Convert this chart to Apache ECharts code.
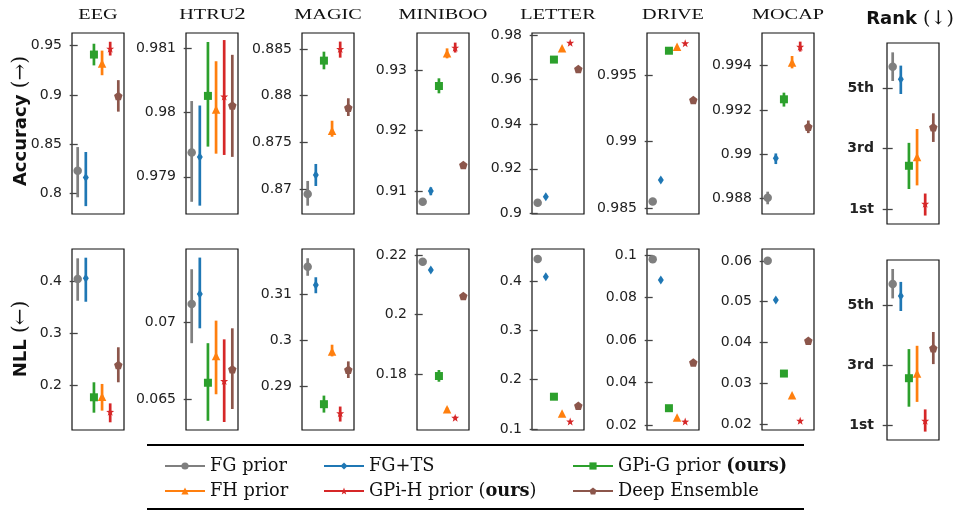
<!DOCTYPE html>
<html>
<head>
<meta charset="utf-8">
<script src="https://cdn.jsdelivr.net/npm/echarts@6/dist/echarts.min.js"></script>
<style>
  html, body { margin: 0; padding: 0; background: #fff; }
  #chart { width: 955px; height: 511px; }
</style>
</head>
<body>
<div id="chart"></div>
<script>
// Methods, in the left-to-right order used inside every panel
const methodNames = ['FG prior', 'FG+TS', 'GPi-G prior (ours)', 'FH prior', 'GPi-H prior (ours)', 'Deep Ensemble'];
const datasets = ['EEG', 'HTRU2', 'MAGIC', 'MINIBOO', 'LETTER', 'DRIVE', 'MOCAP'];

// ---- Accuracy (mean, lower, upper) ----
const eegAccMean = [0.823, 0.816, 0.941, 0.932, 0.947, 0.899];
const eegAccLo   = [0.796, 0.787, 0.930, 0.920, 0.940, 0.883];
const eegAccHi   = [0.847, 0.842, 0.952, 0.945, 0.954, 0.915];

const htruAccMean = [0.97938, 0.97931, 0.98026, 0.98005, 0.98025, 0.98011];
const htruAccLo   = [0.97861, 0.97855, 0.97947, 0.97936, 0.97934, 0.97931];
const htruAccHi   = [0.98018, 0.98011, 0.98110, 0.98080, 0.98113, 0.98090];

const magicAccMean = [0.86946, 0.87150, 0.88375, 0.87624, 0.88500, 0.87871];
const magicAccLo   = [0.86821, 0.87032, 0.88282, 0.87560, 0.88407, 0.87782];
const magicAccHi   = [0.87086, 0.87268, 0.88471, 0.87731, 0.88579, 0.87972];

const minibooAccMean = [0.90823, 0.91000, 0.92736, 0.93276, 0.93370, 0.91430];
const minibooAccLo   = [0.90810, 0.90930, 0.92615, 0.93193, 0.93289, 0.91410];
const minibooAccHi   = [0.90840, 0.91060, 0.92863, 0.93358, 0.93453, 0.91450];

const letterAccMean = [0.90475, 0.90744, 0.96897, 0.97403, 0.97655, 0.96480];

const driveAccMean = [0.98550, 0.98712, 0.99682, 0.99712, 0.99738, 0.99312];

const mocapAccMean = [0.98803, 0.98981, 0.99248, 0.99414, 0.99486, 0.99124];
const mocapAccLo   = [0.98773, 0.98955, 0.99215, 0.99388, 0.99464, 0.99095];
const mocapAccHi   = [0.98830, 0.99003, 0.99278, 0.99444, 0.99509, 0.99152];

const rankAccMean = [5.71, 5.30, 2.43, 2.72, 1.17, 3.71];
const rankAccLo   = [5.24, 4.81, 1.66, 1.78, 0.78, 3.22];
const rankAccHi   = [6.19, 5.75, 3.19, 3.65, 1.51, 4.17];

// ---- NLL (mean, lower, upper) ----
const eegNllMean = [0.4038, 0.4052, 0.1778, 0.1790, 0.1500, 0.2396];
const eegNllLo   = [0.3623, 0.3604, 0.1484, 0.1523, 0.1300, 0.2065];
const eegNllHi   = [0.4434, 0.4446, 0.2065, 0.2033, 0.1662, 0.2734];

const htruNllMean = [0.07122, 0.07187, 0.06608, 0.06783, 0.06619, 0.06696];
const htruNllLo   = [0.06866, 0.06963, 0.06360, 0.06533, 0.06352, 0.06437];
const htruNllHi   = [0.07348, 0.07424, 0.06866, 0.07013, 0.06891, 0.06963];

const magicNllMean = [0.31597, 0.31201, 0.28619, 0.29762, 0.28424, 0.29366];
const magicNllLo   = [0.31400, 0.31022, 0.28437, 0.29654, 0.28243, 0.29186];
const magicNllHi   = [0.31780, 0.31368, 0.28805, 0.29907, 0.28568, 0.29546];

const minibooNllMean = [0.21775, 0.21496, 0.17933, 0.16813, 0.16531, 0.20625];
const minibooNllLo   = [0.21760, 0.21430, 0.17741, 0.16760, 0.16480, 0.20610];
const minibooNllHi   = [0.21790, 0.21560, 0.18134, 0.16870, 0.16580, 0.20640];

const letterNllMean = [0.4446, 0.4087, 0.1655, 0.1315, 0.1152, 0.1473];

const driveNllMean = [0.09800, 0.08816, 0.02786, 0.02344, 0.02155, 0.04941];

const mocapNllMean = [0.06007, 0.05042, 0.03238, 0.02706, 0.02081, 0.04042];

const rankNllMean = [5.70, 5.30, 2.56, 2.72, 1.14, 3.56];
const rankNllLo   = [5.22, 4.80, 1.61, 1.77, 0.78, 3.03];
const rankNllHi   = [6.20, 5.77, 3.53, 3.64, 1.52, 4.10];

// ---- Tick values ----
const eegAccTicks = [0.8, 0.85, 0.9, 0.95];
const htruAccTicks = [0.979, 0.98, 0.981];
const magicAccTicks = [0.87, 0.875, 0.88, 0.885];
const minibooAccTicks = [0.91, 0.92, 0.93];
const letterAccTicks = [0.9, 0.92, 0.94, 0.96, 0.98];
const driveAccTicks = [0.985, 0.99, 0.995];
const mocapAccTicks = [0.988, 0.99, 0.992, 0.994];
const eegNllTicks = [0.2, 0.3, 0.4];
const htruNllTicks = [0.065, 0.07];
const magicNllTicks = [0.29, 0.3, 0.31];
const minibooNllTicks = [0.18, 0.2, 0.22];
const letterNllTicks = [0.1, 0.2, 0.3, 0.4];
const driveNllTicks = [0.02, 0.04, 0.06, 0.08, 0.1];
const mocapNllTicks = [0.02, 0.03, 0.04, 0.05, 0.06];
const rankTicks = [1, 3, 5];
const rankTickLabels = ['1st', '3rd', '5th'];

// ---- Styling ----
const methodColors = ['#7f7f7f', '#1f77b4', '#2ca02c', '#ff7f0e', '#d62728', '#8c564b'];

function polygonPath(n, inner) {
  const pts = [];
  const count = inner ? n * 2 : n;
  for (let i = 0; i < count; i++) {
    const a = -Math.PI / 2 + i * 2 * Math.PI / count;
    const r = inner && i % 2 ? inner : 1;
    pts.push((r * Math.cos(a)).toFixed(4) + ',' + (r * Math.sin(a)).toFixed(4));
  }
  return 'path://M' + pts.join(' L') + ' Z';
}
const starSymbol = polygonPath(5, 0.4);
const pentagonSymbol = polygonPath(5, 0);
const methodSymbols = ['circle', 'diamond', 'rect', 'triangle', starSymbol, pentagonSymbol];
const methodSymbolSizes = [8.5, [6, 9], 8, 8.5, 8, 8.5];

const colLefts = [72, 186, 302, 417, 532, 647, 762, 887];
const PANEL_W = 52;

const panels = [
  // accuracy row
  { col: 0, top: 33, h: 181, mean: eegAccMean, lo: eegAccLo, hi: eegAccHi, ticks: eegAccTicks, range: [0.779, 0.9629] },
  { col: 1, top: 33, h: 181, mean: htruAccMean, lo: htruAccLo, hi: htruAccHi, ticks: htruAccTicks, range: [0.97842, 0.98124] },
  { col: 2, top: 33, h: 181, mean: magicAccMean, lo: magicAccLo, hi: magicAccHi, ticks: magicAccTicks, range: [0.86732, 0.88671] },
  { col: 3, top: 33, h: 181, mean: minibooAccMean, lo: minibooAccLo, hi: minibooAccHi, ticks: minibooAccTicks, range: [0.9062, 0.93612] },
  { col: 4, top: 33, h: 181, mean: letterAccMean, ticks: letterAccTicks, range: [0.8997, 0.9809] },
  { col: 5, top: 33, h: 181, mean: driveAccMean, ticks: driveAccTicks, range: [0.98457, 0.99815] },
  { col: 6, top: 33, h: 181, mean: mocapAccMean, lo: mocapAccLo, hi: mocapAccHi, ticks: mocapAccTicks, range: [0.98729, 0.99548] },
  { col: 7, top: 43, h: 181, mean: rankAccMean, lo: rankAccLo, hi: rankAccHi, ticks: rankTicks, range: [0.5, 6.5], rank: true },
  // NLL row
  { col: 0, top: 249, h: 181, mean: eegNllMean, lo: eegNllLo, hi: eegNllHi, ticks: eegNllTicks, range: [0.1153, 0.4612] },
  { col: 1, top: 249, h: 181, mean: htruNllMean, lo: htruNllLo, hi: htruNllHi, ticks: htruNllTicks, range: [0.0630, 0.0748] },
  { col: 2, top: 249, h: 181, mean: magicNllMean, lo: magicNllLo, hi: magicNllHi, ticks: magicNllTicks, range: [0.2806, 0.3198] },
  { col: 3, top: 249, h: 181, mean: minibooNllMean, lo: minibooNllLo, hi: minibooNllHi, ticks: minibooNllTicks, range: [0.1612, 0.2220] },
  { col: 4, top: 249, h: 181, mean: letterNllMean, ticks: letterNllTicks, range: [0.098, 0.4649] },
  { col: 5, top: 249, h: 181, mean: driveNllMean, ticks: driveNllTicks, range: [0.0176, 0.1028] },
  { col: 6, top: 249, h: 181, mean: mocapNllMean, ticks: mocapNllTicks, range: [0.01853, 0.06294] },
  { col: 7, top: 260, h: 180, mean: rankNllMean, lo: rankNllLo, hi: rankNllHi, ticks: rankTicks, range: [0.5, 6.5], rank: true }
];

const grid = [], xAxis = [], yAxis = [], series = [];

panels.forEach((p, k) => {
  grid.push({
    left: colLefts[p.col], top: p.top, width: PANEL_W, height: p.h,
    show: true, borderColor: '#111', borderWidth: 1.2, backgroundColor: 'transparent'
  });
  xAxis.push({ gridIndex: k, type: 'value', min: -0.7, max: 5.7, show: false });
  yAxis.push({
    gridIndex: k, type: 'value', min: p.range[0], max: p.range[1],
    axisLine: { show: false },
    splitLine: { show: false },
    axisTick: {
      show: true, length: p.rank ? 10 : 8, customValues: p.ticks,
      lineStyle: { color: '#444', width: 1.3 }
    },
    axisLabel: {
      customValues: p.ticks, margin: p.rank ? 13 : 10, color: '#222',
      fontFamily: 'DejaVu Sans', fontSize: 14, fontWeight: p.rank ? 'bold' : 'normal',
      formatter: p.rank
        ? (v) => rankTickLabels[rankTicks.indexOf(Math.round(v))]
        : (v) => String(+(+v).toFixed(6))
    }
  });
  if (p.lo && p.hi) {
    series.push({
      type: 'custom', xAxisIndex: k, yAxisIndex: k, z: 2, silent: true,
      data: p.mean.map((_, i) => [i, p.lo[i], p.hi[i]]),
      encode: { x: 0, y: [1, 2] },
      renderItem: (params, api) => {
        const i = api.value(0);
        const a = api.coord([i, api.value(1)]);
        const b = api.coord([i, api.value(2)]);
        return {
          type: 'line',
          shape: { x1: a[0], y1: a[1], x2: b[0], y2: b[1] },
          style: { stroke: methodColors[i], lineWidth: 2.7 }
        };
      }
    });
  }
  series.push({
    type: 'scatter', xAxisIndex: k, yAxisIndex: k, z: 3, silent: true,
    data: p.mean.map((m, i) => ({
      value: [i, m],
      symbol: methodSymbols[i],
      symbolSize: methodSymbolSizes[i],
      itemStyle: { color: methodColors[i], opacity: 1 }
    }))
  });
});

// Empty line series that carry the legend keys (line + marker)
methodNames.forEach((name, i) => {
  series.push({
    type: 'line', name: name, xAxisIndex: 0, yAxisIndex: 0, data: [],
    symbol: methodSymbols[i], symbolSize: 7, color: methodColors[i],
    lineStyle: { width: 3, color: methodColors[i] }
  });
});

const LEGEND_FONT = 17.8;
const legendText = {
  fontFamily: 'DejaVu Serif', fontSize: LEGEND_FONT, color: '#111', lineHeight: 20,
  rich: {
    n: { fontFamily: 'DejaVu Serif', fontSize: LEGEND_FONT, color: '#111', lineHeight: 20 },
    b: { fontFamily: 'DejaVu Serif', fontSize: LEGEND_FONT, fontWeight: 'bold', color: '#111', lineHeight: 20 }
  }
};
function legendFormatter(name) {
  if (name === 'GPi-G prior (ours)') return '{n|GPi-G prior }{b|(ours)}';
  if (name === 'GPi-H prior (ours)') return '{n|GPi-H prior (}{b|ours}{n|)}';
  return name;
}
function makeLegend(names, left) {
  return {
    data: names, left: left, top: 456, orient: 'vertical', padding: 0,
    itemWidth: 40, itemHeight: 9, itemGap: 5, selectedMode: false,
    textStyle: legendText, formatter: legendFormatter
  };
}

const titleCenters = [98, 212.5, 328, 443, 558, 673, 788];
const graphics = [];
datasets.forEach((d, i) => {
  const m = d.match(/^([A-Z]+)(\d*)$/);
  const text = m[2] ? '{a|' + m[1] + '}{b|' + m[2] + '}' : '{a|' + m[1] + '}';
  graphics.push({
    type: 'text', x: titleCenters[i], y: 14, scaleX: 1.35, silent: true,
    style: {
      text: text, align: 'center', verticalAlign: 'middle', fill: '#111',
      rich: {
        a: { fontFamily: 'Liberation Serif', fontSize: 15, fill: '#111', verticalAlign: 'bottom', lineHeight: 18 },
        b: { fontFamily: 'Liberation Serif', fontSize: 17, fill: '#111', verticalAlign: 'bottom', lineHeight: 18 }
      }
    }
  });
});
graphics.push({
  type: 'text', x: 910, y: 19, silent: true,
  style: {
    text: '{a|Rank}{b| (↓)}', align: 'center', verticalAlign: 'middle', fill: '#111',
    rich: {
      a: { fontFamily: 'DejaVu Sans', fontWeight: 'bold', fontSize: 18, fill: '#111' },
      b: { fontFamily: 'DejaVu Serif', fontSize: 19, fill: '#111' }
    }
  }
});
[['Accuracy', '(→)', 121], ['NLL', '(←)', 339]].forEach(([word, arrow, cy]) => {
  graphics.push({
    type: 'text', x: 21, y: cy, rotation: Math.PI / 2, silent: true,
    style: {
      text: '{a|' + word + '}{b| ' + arrow + '}', align: 'center', verticalAlign: 'middle', fill: '#111',
      rich: {
        a: { fontFamily: 'DejaVu Sans', fontWeight: 'bold', fontSize: 18, fill: '#111' },
        b: { fontFamily: 'DejaVu Serif', fontSize: 20, fill: '#111' }
      }
    }
  });
});
// rules above and below the legend
graphics.push({ type: 'line', silent: true, shape: { x1: 147, y1: 445, x2: 804, y2: 445 }, style: { stroke: '#000', lineWidth: 2 } });
graphics.push({ type: 'line', silent: true, shape: { x1: 147, y1: 509, x2: 804, y2: 509 }, style: { stroke: '#000', lineWidth: 2 } });

const chart = echarts.init(document.getElementById('chart'), null, { renderer: 'canvas' });
chart.setOption({
  animation: false,
  backgroundColor: '#fff',
  grid: grid,
  xAxis: xAxis,
  yAxis: yAxis,
  legend: [
    makeLegend(['FG prior', 'FH prior'], 164),
    makeLegend(['FG+TS', 'GPi-H prior (ours)'], 323),
    makeLegend(['GPi-G prior (ours)', 'Deep Ensemble'], 572)
  ],
  graphic: graphics,
  series: series
});
</script>
</body>
</html>
